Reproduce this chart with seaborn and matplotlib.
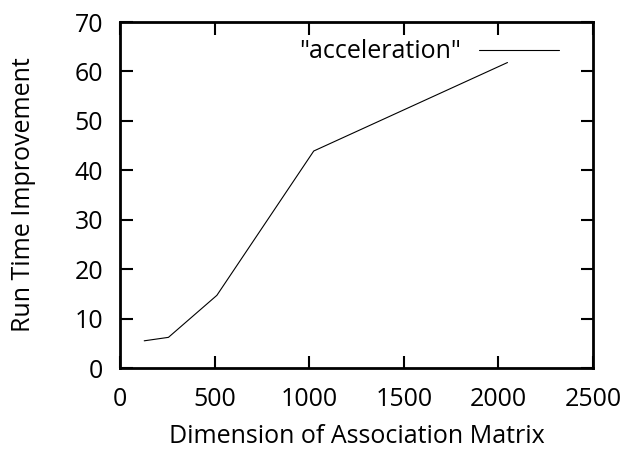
import matplotlib
matplotlib.use("Agg")
import matplotlib.pyplot as plt
import seaborn as sns
import pandas as pd

dimension = [128, 256, 512, 1024, 2048]
improvement = [5.5, 6.2, 14.7, 43.9, 61.8]
series_name = '"acceleration"'
x_ticks = [0, 500, 1000, 1500, 2000, 2500]
y_ticks = [0, 10, 20, 30, 40, 50, 60, 70]

sns.set_theme(style="white")
plt.rcParams['font.family'] = ['Open Sans', 'DejaVu Sans']
plt.rcParams['text.color'] = 'black'
plt.rcParams['axes.labelcolor'] = 'black'

df = pd.DataFrame({"Dimension": dimension, "Improvement": improvement, "series": series_name})

fig = plt.figure(figsize=(6.43, 4.5), dpi=100)
ax = fig.add_axes([120/643, 1 - 368/450, 473/643, 346/450])
sns.lineplot(data=df, x="Dimension", y="Improvement", hue="series",
             palette=["black"], linewidth=0.8, ax=ax, legend=True)
ax.set_xlim(0, 2500)
ax.set_ylim(0, 70)
ax.set_xticks(x_ticks)
ax.set_yticks(y_ticks)
ax.tick_params(direction="in", length=9, width=1.5, top=True, right=True,
               bottom=True, left=True, labelsize=18, colors="black")
ax.tick_params(axis="x", pad=14)
ax.tick_params(axis="y", pad=12)
for s in ax.spines.values():
    s.set_linewidth(2)
    s.set_color("black")
ax.set_xlabel("Dimension of Association Matrix", fontsize=18, labelpad=8, color="black")
ax.set_ylabel("Run Time Improvement", fontsize=18, labelpad=28, color="black")
leg = ax.legend(loc="upper right", frameon=False, fontsize=18, markerfirst=False,
                handlelength=3.2, handletextpad=0.7, borderpad=0, borderaxespad=0,
                bbox_to_anchor=(0.928, 0.95))
for t in leg.get_texts():
    t.set_color("black")
fig.savefig("out.png", dpi=100)
